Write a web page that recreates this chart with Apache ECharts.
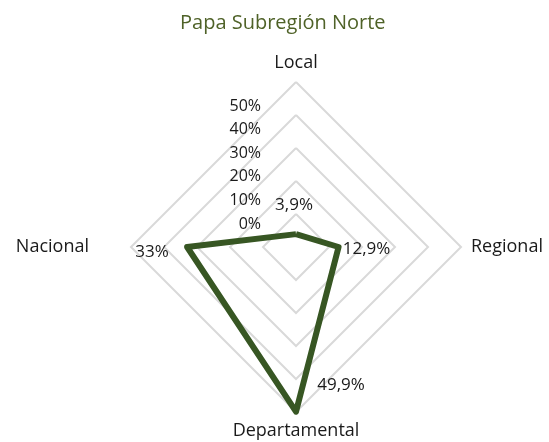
<!DOCTYPE html>
<html>
<head>
<meta charset="utf-8">
<script src="https://cdn.jsdelivr.net/npm/echarts@6/dist/echarts.min.js"></script>
<style>
html, body { margin: 0; padding: 0; background: #fff; }
#main { width: 549px; height: 442px; }
</style>
</head>
<body>
<div id="main"></div>
<script>
// ejes en el orden en que echarts los reparte (antihorario desde arriba)
var categorias = ['Local', 'Nacional', 'Departamental', 'Regional'];
var valores = [3.9, 33, 49.9, 12.9];
var ticks = [0, 10, 20, 30, 40, 50];

var fuente = '"Open Sans", sans-serif';
var verde = '#375623';

function pct(v) {
    return String(v).replace('.', ',') + '%';
}

var chartDom = document.getElementById('main');
var myChart = echarts.init(chartDom, null, { renderer: 'canvas' });

// desplazamiento de cada etiqueta de dato respecto a su vertice
var offsets = [[-2, -29], [-35, 5], [45, -27], [28, 2]];

var seriesData = [{
    value: valores,
    symbol: 'none',
    lineStyle: { color: verde, width: 6, join: 'round' },
    label: { show: false }
}];
valores.forEach(function (v, i) {
    seriesData.push({
        value: valores,
        symbol: 'circle',
        symbolSize: 1,
        itemStyle: { color: 'rgba(0,0,0,0)' },
        lineStyle: { width: 0, opacity: 0 },
        label: {
            show: true,
            position: 'inside',
            offset: offsets[i],
            color: '#1a1a1a',
            fontSize: 17,
            fontFamily: fuente,
            formatter: function (p) {
                return p.value === valores[i] ? pct(valores[i]) : '';
            }
        }
    });
});

var option = {
    animation: false,
    title: {
        text: 'Papa Subregión Norte',
        left: 175,
        top: 8,
        textStyle: { color: '#4f6228', fontSize: 20, fontWeight: 'normal', fontFamily: fuente }
    },
    radar: {
        center: [296, 247],
        radius: 165,
        shape: 'polygon',
        splitNumber: 5,
        nameGap: 10,
        indicator: categorias.map(function (c) {
            return { name: c, min: ticks[0], max: ticks[ticks.length - 1] };
        }),
        axisName: {
            color: '#1a1a1a',
            fontSize: 18,
            fontFamily: fuente,
            formatter: function (name) {
                return name === 'Nacional' ? '{lejos|' + name + '}' : name;
            },
            rich: {
                lejos: { padding: [0, 32, 0, 0], color: '#1a1a1a', fontSize: 18, fontFamily: fuente }
            }
        },
        axisLine: { show: false },
        axisTick: { show: false },
        axisLabel: { show: false },
        splitArea: { show: false },
        splitLine: { lineStyle: { color: '#d9d9d9', width: 2 } }
    },
    // escala de porcentajes a la izquierda del eje vertical
    grid: { left: 266, top: 106, width: 1, height: 118 },
    xAxis: { type: 'value', show: false },
    yAxis: {
        type: 'value',
        min: ticks[0],
        max: ticks[ticks.length - 1],
        interval: 10,
        axisLine: { show: false },
        axisTick: { show: false },
        splitLine: { show: false },
        axisLabel: {
            margin: 5,
            color: '#1a1a1a',
            fontSize: 16,
            fontFamily: fuente,
            formatter: '{value}%'
        }
    },
    series: [{
        type: 'radar',
        z: 3,
        data: seriesData
    }]
};

option && myChart.setOption(option);
</script>
</body>
</html>
